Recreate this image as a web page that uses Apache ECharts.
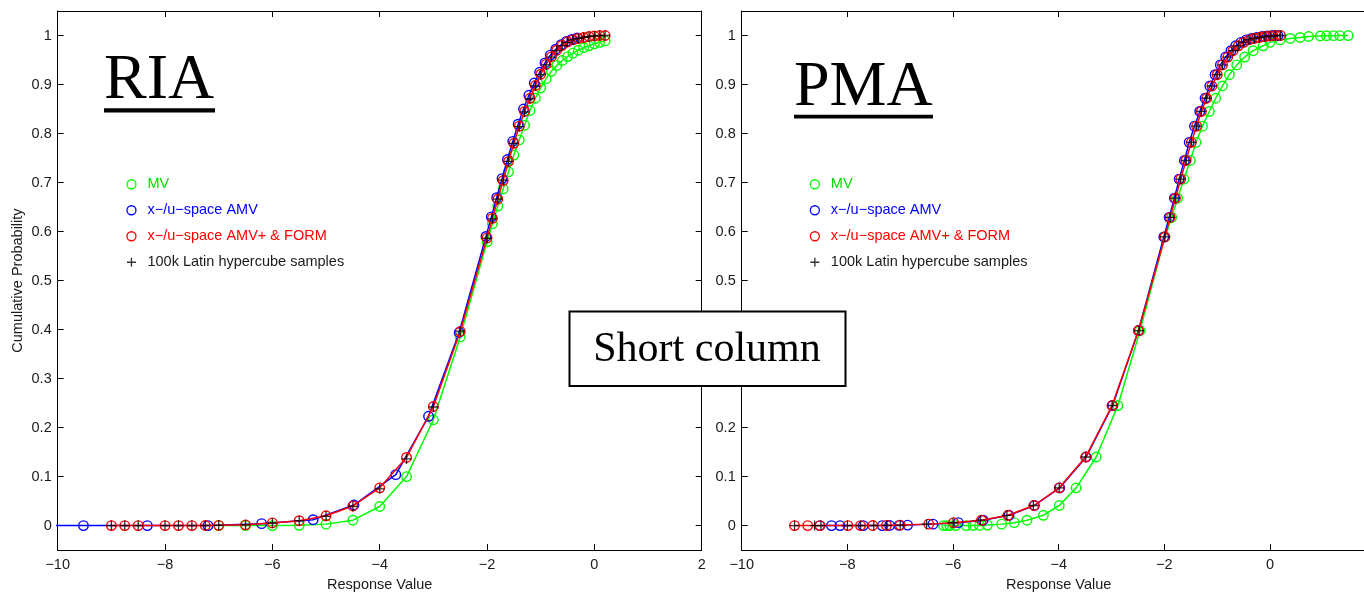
<!DOCTYPE html>
<html>
<head>
<meta charset="utf-8">
<script src="https://cdn.jsdelivr.net/npm/echarts@6.0.0/dist/echarts.min.js"></script>
<style>
html,body{margin:0;padding:0;background:#fff;overflow:hidden;width:1364px;height:597px;}
#chart{width:1400px;height:597px;}
</style>
</head>
<body>
<div id="chart"></div>
<script>
// ---------------- DATA ----------------
// Shared labels
const legendNames = ['MV', 'x\u2212/u\u2212space AMV', 'x\u2212/u\u2212space AMV+ & FORM', '100k Latin hypercube samples'];
const xTickValues = [-10, -8, -6, -4, -2, 0, 2];
const yTickValues = [0, 0.1, 0.2, 0.3, 0.4, 0.5, 0.6, 0.7, 0.8, 0.9, 1];
const panelLabels = ['RIA', 'PMA'];
const noteLabel = 'Short column';
const xAxisName = 'Response Value';
const yAxisName = 'Cumulative Probability';

// ---- Left panel (RIA): fixed response levels ----
const riaGridX = [-9, -8.75, -8.5, -8, -7.75, -7.5, -7.25, -7, -6.5, -6, -5.5, -5, -4.5, -4, -3.5, -3, -2.5,
  -2, -1.9, -1.8, -1.7, -1.6, -1.5, -1.4, -1.3, -1.2, -1.1, -1.0, -0.9, -0.8, -0.7, -0.6, -0.5, -0.4, -0.3, -0.2, -0.1, 0, 0.1, 0.2];
const riaFormP = [0, 0, 0, 0, 0, 0, 0.0002, 0.0005, 0.0015, 0.0055, 0.010, 0.020, 0.040, 0.077, 0.139, 0.243, 0.396,
  0.587, 0.627, 0.666, 0.704, 0.743, 0.780, 0.815, 0.845, 0.872, 0.898, 0.921, 0.941, 0.957, 0.970, 0.980, 0.987, 0.991, 0.994, 0.996, 0.998, 0.999, 1.0, 1.0];
const riaLhsP = [0, 0, 0, 0, 0, 0, 0.0002, 0.0005, 0.0015, 0.005, 0.010, 0.019, 0.039, 0.075, 0.136, 0.242, 0.397,
  0.586, 0.626, 0.666, 0.705, 0.743, 0.780, 0.814, 0.844, 0.871, 0.897, 0.920, 0.940, 0.956, 0.969, 0.979, 0.986, 0.991, 0.994, 0.996, 0.998, 0.999, 1.0, 1.0];
const riaMvX = [-7, -6.5, -6, -5.5, -5, -4.5, -4, -3.5, -3, -2.5,
  -2, -1.9, -1.8, -1.7, -1.6, -1.5, -1.4, -1.3, -1.2, -1.1, -1.0, -0.9, -0.8, -0.7, -0.6, -0.5, -0.4, -0.3, -0.2, -0.1, 0, 0.1, 0.2];
const riaMvP = [0, 0, 0, 0.0005, 0.003, 0.011, 0.039, 0.100, 0.216, 0.385,
  0.579, 0.616, 0.652, 0.687, 0.722, 0.756, 0.787, 0.817, 0.847, 0.872, 0.893, 0.912, 0.927, 0.939, 0.949, 0.957, 0.964, 0.970, 0.975, 0.979, 0.983, 0.986, 0.989];
const riaAmvX = [-10.6, -9.52, -8.33, -7.2, -6.2, -5.24, -4.48, -3.7, -3.09, -2.52,
  -2.02, -1.92, -1.82, -1.72, -1.62, -1.52, -1.42, -1.32, -1.22, -1.12, -1.02, -0.92, -0.82, -0.72, -0.62, -0.52, -0.42, -0.32];
const riaAmvP = [0, 0, 0, 0, 0.004, 0.012, 0.042, 0.104, 0.223, 0.394,
  0.590, 0.630, 0.669, 0.708, 0.747, 0.784, 0.819, 0.850, 0.878, 0.903, 0.925, 0.944, 0.960, 0.972, 0.981, 0.988, 0.992, 0.995];

// ---- Right panel (PMA): fixed probability levels ----
const pmaLevels = [0, 0, 0, 0, 0, 0.0002, 0.0004, 0.001, 0.003, 0.006, 0.011, 0.021, 0.041, 0.077, 0.140, 0.245, 0.398,
  0.589, 0.629, 0.668, 0.707, 0.745, 0.782, 0.815, 0.845, 0.872, 0.897, 0.920, 0.940, 0.956, 0.969, 0.979, 0.986, 0.991, 0.994, 0.996, 0.998, 0.999, 1.0, 1.0];
const pmaFormX = [-9, -8.75, -8.52, -7.99, -7.75, -7.52, -7.26, -7.0, -6.46, -5.99, -5.46, -4.96, -4.47, -3.99, -3.49, -2.99, -2.49,
  -1.99, -1.89, -1.79, -1.69, -1.59, -1.49, -1.39, -1.30, -1.20, -1.10, -1.00, -0.90, -0.80, -0.70, -0.60, -0.50, -0.40, -0.30, -0.20, -0.10, 0, 0.10, 0.20];
const pmaLhsX = [-9, -8.62, -8.5, -8, -7.75, -7.5, -7.25, -7, -6.5, -6, -5.48, -4.98, -4.48, -3.99, -3.49, -2.99, -2.48,
  -1.99, -1.89, -1.79, -1.69, -1.59, -1.49, -1.39, -1.30, -1.20, -1.10, -1.00, -0.90, -0.80, -0.70, -0.60, -0.50, -0.40, -0.30, -0.20, -0.10, 0, 0.10, 0.20];
const pmaAmvX = [-8.52, -8.3, -8.14, -7.7, -7.34, -7.2, -7.02, -6.86, -6.38, -5.9, -5.43, -4.94, -4.46, -3.98, -3.48, -2.98, -2.49,
  -2.01, -1.91, -1.81, -1.72, -1.62, -1.53, -1.43, -1.33, -1.23, -1.14, -1.04, -0.94, -0.84, -0.74, -0.65, -0.55, -0.45, -0.35, -0.25, -0.15, -0.05, 0.05, 0.15];
const pmaMvX = [-6.18, -6.12, -6.06, -5.95, -5.75, -5.62, -5.5, -5.35, -5.08, -4.84, -4.6, -4.29, -3.99, -3.67, -3.29, -2.88, -2.46,
  -1.99, -1.86, -1.75, -1.63, -1.51, -1.40, -1.28, -1.15, -1.03, -0.90, -0.77, -0.63, -0.48, -0.32, -0.13, 0.0, 0.19, 0.38, 0.57, 0.73, 0.95, 1.07, 1.20, 1.32, 1.48];
const pmaMvP = [0, 0, 0, 0, 0, 0.0002, 0.0004, 0.001, 0.003, 0.006, 0.011, 0.021, 0.041, 0.077, 0.140, 0.245, 0.398,
  0.589, 0.629, 0.668, 0.707, 0.745, 0.782, 0.815, 0.845, 0.872, 0.897, 0.920, 0.940, 0.956, 0.969, 0.979, 0.986, 0.991, 0.994, 0.996, 0.998, 0.999, 0.9995, 0.9997, 0.9998, 0.9999];

// ---------------- CHART ----------------
const FONT = '"Liberation Sans", Arial, Helvetica, sans-serif';
const SERIF = '"Liberation Serif", "Times New Roman", Times, serif';
const GREEN = '#00ff00', BLUE = '#0000ff', RED = '#ff0000', BLACK = '#000000';
const PLUS = 'path://M0,5L10,5M5,0L5,10';
const NONE = 'rgba(0,0,0,0)';
const zip = (xs, ys) => xs.map((x, i) => [x, ys[i]]);
const minus = v => String(v).replace('-', '\u2212');

const gridBox = [
  { left: 57.7, top: 11, width: 644, height: 546.5 },
  { left: 741.7, top: 11, width: 634, height: 546.5 }
];

function xAxes(gi) {
  const base = {
    type: 'value', gridIndex: gi, min: xTickValues[0], max: xTickValues[xTickValues.length - 1], interval: 2,
    axisLine: { onZero: false, lineStyle: { color: '#000', width: 1 } },
    axisTick: { inside: true, length: 6, lineStyle: { color: '#000', width: 1 } },
    splitLine: { show: false }
  };
  return [
    Object.assign({}, base, {
      position: 'bottom',
      axisLabel: { color: '#1a1a1a', fontSize: 14.5, fontFamily: FONT, margin: 7, formatter: minus },
      name: xAxisName, nameLocation: 'middle', nameGap: 22,
      nameTextStyle: { color: '#1a1a1a', fontSize: 14.5, fontFamily: FONT }
    }),
    Object.assign({}, base, { position: 'top', axisLabel: { show: false } })
  ];
}
function yAxes(gi, withName) {
  const base = {
    type: 'value', gridIndex: gi, min: -0.05, max: 1.05, splitNumber: 11,
    axisLine: { onZero: false, lineStyle: { color: '#000', width: 1 } },
    axisTick: { inside: true, length: 6, lineStyle: { color: '#000', width: 1 } },
    splitLine: { show: false }
  };
  const fmt = v => {
    const k = Math.round(v * 10);
    if (Math.abs(v * 10 - k) > 1e-6) return '';
    return yTickValues.indexOf(k / 10) >= 0 ? String(k / 10) : '';
  };
  const left = Object.assign({}, base, {
    position: 'left',
    axisLabel: { color: '#1a1a1a', fontSize: 14.5, fontFamily: FONT, margin: 6, formatter: fmt, showMinLabel: true, showMaxLabel: true }
  });
  if (withName) {
    Object.assign(left, {
      name: yAxisName, nameLocation: 'middle', nameGap: 32, nameRotate: 90,
      nameTextStyle: { color: '#1a1a1a', fontSize: 14.5, fontFamily: FONT }
    });
  }
  return [left, Object.assign({}, base, { position: 'right', axisLabel: { show: false } })];
}

function circleLine(name, data, color, xi, yi, z) {
  return {
    type: 'line', name, data, xAxisIndex: xi, yAxisIndex: yi, z,
    symbol: 'circle', symbolSize: 9.5, showSymbol: true, showAllSymbol: true,
    itemStyle: { color: NONE, borderColor: color, borderWidth: 1.4 },
    lineStyle: { color, width: 1.5 },
    emphasis: { disabled: true }, silent: true, clip: true, animation: false
  };
}
function plusScatter(name, data, xi, yi) {
  return {
    type: 'scatter', name, data, xAxisIndex: xi, yAxisIndex: yi, z: 6,
    symbol: PLUS, symbolSize: 10,
    itemStyle: { color: NONE, borderColor: BLACK, borderWidth: 1.3 },
    emphasis: { disabled: true }, silent: true, clip: true, animation: false
  };
}
function legendAt(left) {
  const mk = (name, icon, color, textColor) => ({
    name, icon,
    itemStyle: { color: NONE, borderColor: color, borderWidth: 1.3 },
    textStyle: { color: textColor }
  });
  return {
    orient: 'vertical', left, top: 176.75, padding: 0,
    itemWidth: 22, itemHeight: 9, itemGap: 11, selectedMode: false,
    textStyle: { fontSize: 14.5, fontFamily: FONT },
    data: [
      mk(legendNames[0], 'circle', GREEN, '#00dd00'),
      mk(legendNames[1], 'circle', BLUE, '#0000ff'),
      mk(legendNames[2], 'circle', RED, '#ff0000'),
      mk(legendNames[3], PLUS, BLACK, '#1a1a1a')
    ]
  };
}

const chart = echarts.init(document.getElementById('chart'), null, { renderer: 'canvas', width: 1400, height: 597 });
const xs = xAxes(0).concat(xAxes(1));
const ys = yAxes(0, true).concat(yAxes(1, false));

chart.setOption({
  animation: false,
  backgroundColor: '#ffffff',
  textStyle: { fontFamily: FONT },
  grid: gridBox.map(g => Object.assign({ containLabel: false }, g)),
  xAxis: xs,
  yAxis: ys,
  legend: [legendAt(126.3), legendAt(809.7)],
  series: [
    circleLine(legendNames[0], zip(riaMvX, riaMvP), GREEN, 0, 0, 2),
    circleLine(legendNames[1], zip(riaAmvX, riaAmvP), BLUE, 0, 0, 3),
    circleLine(legendNames[2], zip(riaGridX, riaFormP), RED, 0, 0, 4),
    plusScatter(legendNames[3], zip(riaGridX, riaLhsP), 0, 0),
    circleLine(legendNames[0], zip(pmaMvX, pmaMvP), GREEN, 2, 2, 2),
    circleLine(legendNames[1], zip(pmaAmvX, pmaLevels), BLUE, 2, 2, 3),
    circleLine(legendNames[2], zip(pmaFormX, pmaLevels), RED, 2, 2, 4),
    plusScatter(legendNames[3], zip(pmaLhsX, pmaLevels), 2, 2)
  ],
  graphic: [
    { type: 'text', z: 50, style: { text: panelLabels[0], x: 104, y: 81.5, font: '64px ' + SERIF, fill: '#000', align: 'left', verticalAlign: 'middle' } },
    { type: 'rect', z: 50, shape: { x: 104, y: 108.3, width: 111, height: 4.2 }, style: { fill: '#000' } },
    { type: 'text', z: 50, style: { text: panelLabels[1], x: 794, y: 88.5, font: '64px ' + SERIF, fill: '#000', align: 'left', verticalAlign: 'middle' } },
    { type: 'rect', z: 50, shape: { x: 794, y: 114.8, width: 139, height: 3.8 }, style: { fill: '#000' } },
    { type: 'rect', z: 60, shape: { x: 569.5, y: 311.5, width: 276, height: 74.5 }, style: { fill: '#fff', stroke: '#000', lineWidth: 2 } },
    { type: 'text', z: 61, style: { text: noteLabel, x: 707, y: 350, font: '42px ' + SERIF, fill: '#000', align: 'center', verticalAlign: 'middle' } }
  ]
});
</script>
</body>
</html>
